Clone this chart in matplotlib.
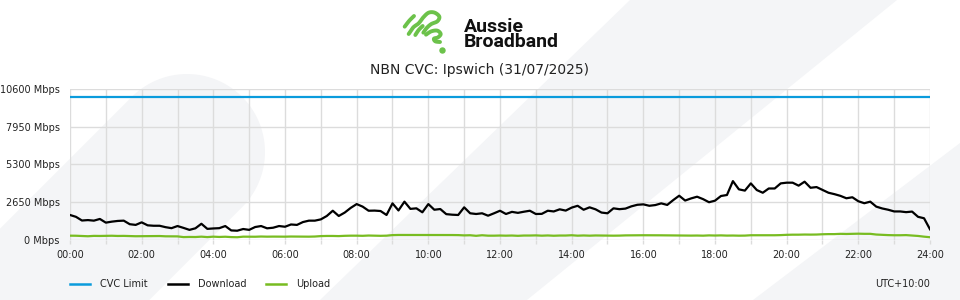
import numpy as np
import matplotlib
matplotlib.use("Agg")
import matplotlib.pyplot as plt
from matplotlib.patches import Polygon
from matplotlib.lines import Line2D

plt.rcParams['font.family'] = ['DejaVu Sans']

# ---------------- data ----------------
title = "NBN CVC: Ipswich (31/07/2025)"
tz_label = "UTC+10:00"
brand = "Aussie\nBroadband"
series_names = ["CVC Limit", "Download", "Upload"]
series_colors = ["#0a9bdc", "#000000", "#78bc21"]
y_ticks = [0, 2650, 5300, 7950, 10600]
x_tick_labels = ["00:00", "02:00", "04:00", "06:00", "08:00", "10:00", "12:00",
                 "14:00", "16:00", "18:00", "20:00", "22:00", "24:00"]
step_minutes = 10
cvc_limit = 10070

download = [
    1730, 1600, 1340, 1370, 1330, 1450,
    1190, 1260, 1310, 1330, 1080, 1030,
    1210, 1000, 970, 970, 870, 800,
    950, 820, 680, 790, 1110, 750,
    780, 800, 950, 640, 620, 740,
    680, 880, 950, 790, 830, 950,
    900, 1060, 1030, 1230, 1330, 1330,
    1420, 1660, 2030, 1660, 1900, 2230,
    2500, 2320, 2030, 2040, 2010, 1730,
    2550, 2050, 2670, 2160, 2200, 1920,
    2500, 2100, 2150, 1790, 1750, 1730,
    2270, 1850, 1800, 1850, 1680, 1850,
    2030, 1800, 1950, 1880, 1960, 2030,
    1800, 1810, 2030, 1980, 2130, 2040,
    2250, 2380, 2100, 2270, 2130, 1900,
    1850, 2200, 2140, 2180, 2340, 2450,
    2480, 2380, 2430, 2550, 2440, 2780,
    3090, 2750, 2900, 3020, 2850, 2630,
    2740, 3070, 3140, 4120, 3540, 3450,
    3960, 3490, 3300, 3600, 3600, 3960,
    4010, 4010, 3800, 4080, 3650, 3700,
    3500, 3300, 3200, 3080, 2910, 2980,
    2700, 2560, 2670, 2320, 2190, 2100,
    1980, 1980, 1930, 1970, 1600, 1500,
    720,
]

upload = [
    270, 265, 250, 230, 255, 250,
    260, 265, 250, 255, 240, 230,
    235, 240, 250, 245, 225, 225,
    220, 170, 180, 175, 200, 170,
    200, 180, 195, 170, 160, 200,
    200, 195, 210, 200, 205, 200,
    200, 210, 205, 205, 200, 210,
    240, 250, 250, 240, 260, 270,
    270, 260, 280, 270, 260, 270,
    310, 320, 320, 325, 320, 320,
    320, 315, 320, 320, 315, 310,
    290, 300, 260, 300, 270, 270,
    280, 270, 280, 260, 280, 280,
    290, 270, 285, 265, 280, 280,
    300, 270, 285, 270, 285, 280,
    270, 270, 275, 290, 295, 300,
    300, 300, 300, 295, 290, 290,
    285, 270, 275, 280, 270, 290,
    280, 290, 275, 280, 270, 275,
    300, 300, 300, 300, 300, 310,
    330, 340, 340, 350, 345, 350,
    370, 380, 380, 400, 390, 400,
    410, 400, 400, 350, 330, 310,
    300, 300, 310, 280, 250, 200,
    160,
]

# ---------------- figure ----------------
W, H = 960, 300
fig = plt.figure(figsize=(W / 100, H / 100), dpi=100, facecolor="white")

def fx(x):
    return x / W

def fy(y):
    return 1 - y / H

bg = "#f4f5f7"
band_mid = [(630, 0), (897, 0), (527, 300), (320, 300)]
band_right = [(960, 143), (960, 300), (753, 300)]
cx, cy, r = 187, 152, 78
u = np.array([1, -1]) / np.sqrt(2)
n = np.array([1, 1]) / np.sqrt(2)
th = np.linspace(0, np.pi, 60)
cap = [(cx + r * (np.cos(a) * n[0] + np.sin(a) * u[0]),
        cy + r * (np.cos(a) * n[1] + np.sin(a) * u[1])) for a in th]
left_shape = cap + [tuple(np.array(cap[-1]) - 400 * u), tuple(np.array(cap[0]) - 400 * u)]
for poly in (band_mid, band_right, left_shape):
    fig.patches.append(Polygon([(fx(x), fy(y)) for x, y in poly], closed=True,
                               transform=fig.transFigure, facecolor=bg,
                               edgecolor="none", zorder=-10))

# ---------------- main axes ----------------
ax = fig.add_axes([fx(70), fy(239.5), fx(930) - fx(70), fy(89.3) - fy(239.5)])
ax.set_facecolor("none")
t = np.arange(len(download)) * step_minutes / 60.0
ax.plot([0, 24], [cvc_limit, cvc_limit], color=series_colors[0], lw=1.6,
        label=series_names[0], solid_capstyle="butt")
ax.plot(t, download, color=series_colors[1], lw=1.6, label=series_names[1])
ax.plot(t, upload, color=series_colors[2], lw=1.6, label=series_names[2])

ax.set_xlim(0, 24)
ax.set_ylim(0, 10600)
ax.set_xticks(np.arange(0, 25, 1))
ax.set_xticklabels([x_tick_labels[i // 2] if i % 2 == 0 else "" for i in range(25)])
ax.set_yticks(y_ticks)
ax.set_yticklabels([f"{v} Mbps" for v in y_ticks])
grid_c = "#dcdcdc"
ax.grid(True, color=grid_c, lw=1.0, zorder=0)
ax.set_axisbelow(True)
for s in ax.spines.values():
    s.set_visible(False)
ax.tick_params(axis="x", length=3, color=grid_c, width=1.0, pad=4.5,
               labelsize=7, labelcolor="#222222")
ax.tick_params(axis="y", length=0, pad=7.5, labelsize=7, labelcolor="#222222")

fig.text(fx(480), fy(70), title, ha="center", va="center", fontsize=10,
         color="#222222")

handles = [Line2D([], [], color=c, lw=1.8) for c in series_colors]
leg = fig.legend(handles, series_names, loc="center left",
                 bbox_to_anchor=(fx(70), fy(284)), ncol=3, frameon=False,
                 fontsize=7, handlelength=2.06, handletextpad=1.03,
                 columnspacing=2.06, borderpad=0, borderaxespad=0)
for txt in leg.get_texts():
    txt.set_color("#222222")
fig.text(fx(930), fy(284), tz_label, ha="right", va="center", fontsize=7,
         color="#222222")

# logo text (two lines in one text)
fig.text(fx(464), fy(17.5), brand, fontsize=14, fontweight="bold",
         family="Roboto", ha="left", va="top", color="#111111",
         linespacing=0.85)

# logo icon (decorative)
lax = fig.add_axes([fx(398), fy(58), fx(462) - fx(398), fy(0) - fy(58)])
lax.set_xlim(0, 192)
lax.set_ylim(174, 0)
lax.axis("off")

def catmull(pts, k=14):
    pts = np.asarray(pts, float)
    p = np.vstack([pts[0], pts, pts[-1]])
    out = []
    for i in range(1, len(p) - 2):
        p0, p1, p2, p3 = p[i - 1], p[i], p[i + 1], p[i + 2]
        for s in np.linspace(0, 1, k, endpoint=False):
            out.append(0.5 * ((2 * p1) + (-p0 + p2) * s +
                              (2 * p0 - 5 * p1 + 4 * p2 - p3) * s ** 2 +
                              (-p0 + 3 * p1 - 3 * p2 + p3) * s ** 3))
    out.append(pts[-1])
    return np.array(out)

green = "#6cc24a"
strokes = [
    [(20, 80), (34, 62), (48, 48)],
    [(32, 102), (46, 82), (62, 70), (76, 52), (92, 38), (110, 38), (124, 50),
     (118, 64), (100, 72), (86, 84), (76, 98)],
    [(52, 105), (62, 90), (74, 78)],
    [(84, 104), (100, 94), (118, 92), (128, 102), (120, 112), (108, 116),
     (112, 124), (126, 126)],
]
for s in strokes:
    c = catmull(s)
    lax.plot(c[:, 0], c[:, 1], color=green, lw=2.8, solid_capstyle="round",
             solid_joinstyle="round")
lax.plot([133], [150], "o", color=green, ms=3.6)

fig.savefig("out.png", dpi=100, facecolor="white")
